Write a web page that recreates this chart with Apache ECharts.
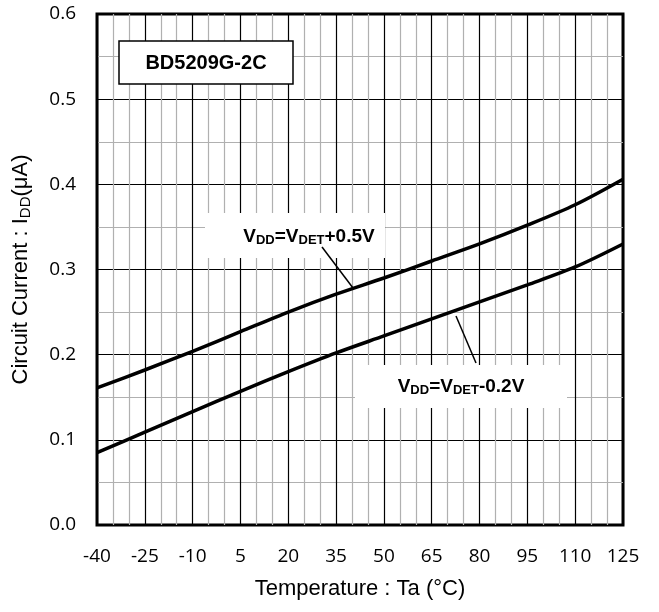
<!DOCTYPE html>
<html><head><meta charset="utf-8">
<script src="https://cdn.jsdelivr.net/npm/echarts@6/dist/echarts.min.js"></script>
<style>html,body{margin:0;padding:0;background:#fff}#c{width:659px;height:612px}</style>
</head><body><div id="c"></div>
<script>
var temps = [-40, -25, -10, 5, 20, 35, 50, 65, 80, 95, 110, 125];
var iddPlus05 = [0.161, 0.182, 0.204, 0.227, 0.250, 0.271, 0.290, 0.310, 0.330, 0.352, 0.376, 0.406];
var iddMinus02 = [0.085, 0.109, 0.133, 0.157, 0.180, 0.202, 0.222, 0.242, 0.262, 0.282, 0.303, 0.330];
var xTicks = [-40, -25, -10, 5, 20, 35, 50, 65, 80, 95, 110, 125];
var yTicks = [0.0, 0.1, 0.2, 0.3, 0.4, 0.5, 0.6];

function pairs(xs, ys){ return xs.map(function(x,i){return [x, ys[i]];}); }

var chart = echarts.init(document.getElementById('c'));
var font = 'Liberation Sans, Arial, sans-serif';
var tickFont = 'Open Sans, sans-serif';
var sub = {fontSize: 13, fontWeight: 'bold', fontFamily: font, fill: '#000', padding: [7,0,0,0]};
var big = {fontSize: 19, fontWeight: 'bold', fontFamily: font, fill: '#000'};
chart.setOption({
  animation: false,
  grid: {left: 97, right: 36, top: 14, bottom: 87, show: true, borderColor: '#000', borderWidth: 3, backgroundColor: '#fff'},
  xAxis: {
    type: 'value', min: -40, max: 125, interval: 5,
    axisLine: {show: false}, axisTick: {show: false},
    splitLine: {show: true, lineStyle: {color: ['#000', '#b0b0b0', '#b0b0b0'], width: 1.2}},
    axisLabel: {margin: 22, fontSize: 19, color: '#000', fontFamily: tickFont,
      formatter: function(v){ return xTicks.indexOf(Math.round(v)) >= 0 ? String(Math.round(v)) : ''; }},
    name: 'Temperature : Ta (°C)', nameLocation: 'middle', nameGap: 53,
    nameTextStyle: {fontSize: 22, color: '#000', fontFamily: font}
  },
  yAxis: {
    type: 'value', min: 0, max: 0.6, interval: 0.05,
    axisLine: {show: false}, axisTick: {show: false},
    splitLine: {show: true, lineStyle: {color: ['#000', '#b0b0b0'], width: 1.2}},
    axisLabel: {margin: 21, fontSize: 19, color: '#000', fontFamily: tickFont,
      formatter: function(v){ var r = Math.round(v*100); return yTicks.indexOf(r/100) >= 0 ? (r/100).toFixed(1) : ''; }},
    name: '{n|Circuit Current : I}{s|DD}{n|(μA)}', nameLocation: 'middle', nameGap: 64,
    nameTextStyle: {color: '#000', fontFamily: font,
      rich: {n: {fontSize: 22, fontFamily: font, color: '#000'}, s: {fontSize: 15, fontFamily: font, color: '#000', padding: [9,0,0,0]}}}
  },
  series: [
    {type: 'line', data: pairs(temps, iddPlus05), smooth: 0.3, showSymbol: false, lineStyle: {color: '#000', width: 3.5}, z: 5},
    {type: 'line', data: pairs(temps, iddMinus02), smooth: 0.3, showSymbol: false, lineStyle: {color: '#000', width: 3.5}, z: 5}
  ],
  graphic: [
    {type: 'rect', shape: {x: 119, y: 41, width: 174, height: 43}, style: {fill: '#fff', stroke: '#000', lineWidth: 1.5}, z: 100},
    {type: 'text', style: {text: 'BD5209G-2C', x: 206, y: 63, align: 'center', verticalAlign: 'middle', font: 'bold 20px ' + font, fill: '#000'}, z: 101},
    {type: 'rect', shape: {x: 205, y: 213, width: 180, height: 45}, style: {fill: '#fff'}, z: 100},
    {type: 'line', shape: {x1: 322, y1: 247, x2: 353, y2: 288}, style: {stroke: '#000', lineWidth: 1.5}, z: 102},
    {type: 'text', style: {x: 309, y: 237, align: 'center', verticalAlign: 'middle',
      text: '{b|V}{s|DD}{b|=V}{s|DET}{b|+0.5V}', rich: {b: big, s: sub}}, z: 101},
    {type: 'rect', shape: {x: 355, y: 365, width: 212, height: 43}, style: {fill: '#fff'}, z: 100},
    {type: 'line', shape: {x1: 456, y1: 316, x2: 476, y2: 363}, style: {stroke: '#000', lineWidth: 1.5}, z: 102},
    {type: 'text', style: {x: 461, y: 387, align: 'center', verticalAlign: 'middle',
      text: '{b|V}{s|DD}{b|=V}{s|DET}{b|-0.2V}', rich: {b: big, s: sub}}, z: 101}
  ]
});
</script></body></html>
